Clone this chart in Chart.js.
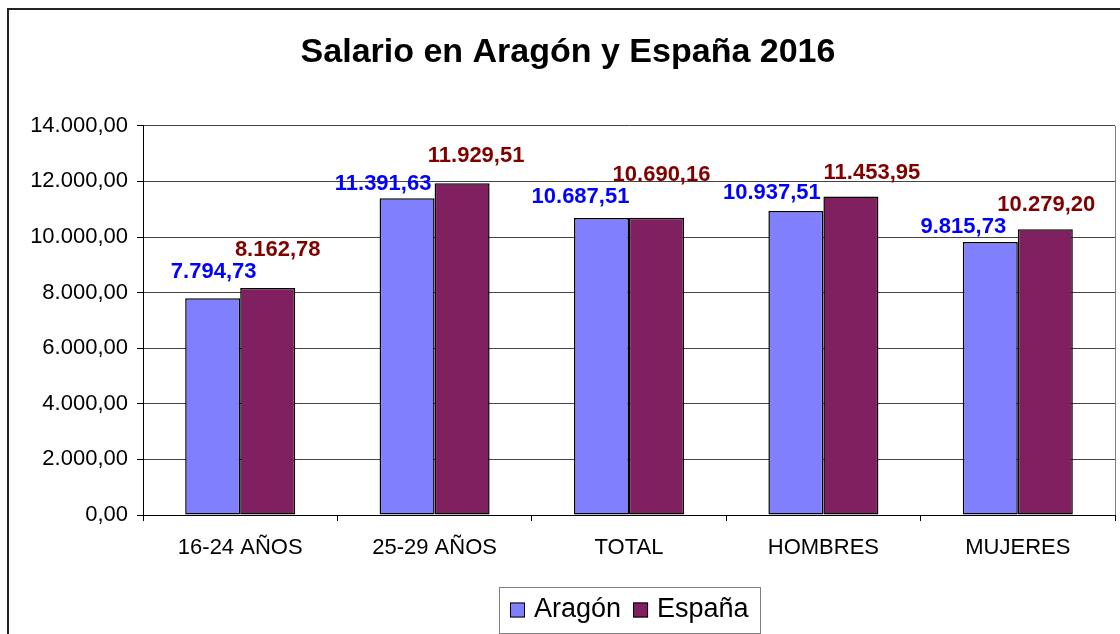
<!DOCTYPE html>
<html>
<head>
<meta charset="utf-8">
<script src="https://cdn.jsdelivr.net/npm/chart.js@4"></script>
<style>
  html, body { margin: 0; padding: 0; background: #fff; }
</style>
</head>
<body>
<canvas id="salarioChart" width="1120" height="634"></canvas>
<script>
// datos
const categories = ['16-24 AÑOS', '25-29 AÑOS', 'TOTAL', 'HOMBRES', 'MUJERES'];
const aragon = [7794.73, 11391.63, 10687.51, 10937.51, 9815.73];
const espana = [8162.78, 11929.51, 10690.16, 11453.95, 10279.20];
const seriesNames = ['Aragón', 'España'];
const yMin = 0, yMax = 14000, yStep = 2000;

// label nudges (px) so the labels sit where they do in the original
const labelNudge = [
    { dx: [1, -24, -21, -24, -27], dy: [26, 14, 21, 18, 15] },
    { dx: [10, 14, 5, 21, 1], dy: [38, 27, 43, 24, 24] }
];

const FONT = '"Liberation Sans", Arial, sans-serif';

function fmt(v) {
    const parts = v.toFixed(2).split('.');
    return parts[0].replace(/\B(?=(\d{3})+(?!\d))/g, '.') + ',' + parts[1];
}

const decor = {
    id: 'decor',
    beforeDraw(chart) {
        const c = chart.ctx;
        c.save();
        c.fillStyle = '#fff';
        c.fillRect(0, 0, chart.width, chart.height);
        c.restore();
    },
    afterDraw(chart) {
        const c = chart.ctx;
        const a = chart.chartArea;
        c.save();

        //plot frame on the right
        c.strokeStyle = '#808080';
        c.lineWidth = 1;
        c.beginPath();
        c.moveTo(Math.round(a.right) + 0.5, a.top);
        c.lineTo(Math.round(a.right) + 0.5, a.bottom);
        c.stroke();

        //outer border (cut off at right and bottom)
        c.strokeStyle = '#222';
        c.lineWidth = 2;
        c.beginPath();
        c.moveTo(8, chart.height);
        c.lineTo(8, 9);
        c.lineTo(chart.width, 9);
        c.stroke();

        //value labels
        const labelColors = ['#0000FF', '#800000'];
        c.font = 'bold 22px ' + FONT;
        c.textAlign = 'center';
        c.textBaseline = 'middle';
        chart.data.datasets.forEach((ds, i) => {
            const meta = chart.getDatasetMeta(i);
            c.fillStyle = labelColors[i];
            meta.data.forEach((bar, j) => {
                const n = labelNudge[i];
                c.fillText(fmt(ds.data[j]), bar.x + n.dx[j], bar.y - n.dy[j]);
            });
        });

        //legend with box, centred under the plot area
        c.font = '27px ' + FONT;
        const sq = 15, gapIn = 9, gapOut = 12, pad = 11;
        const items = chart.data.datasets.map(ds => ({
            text: ds.label, color: ds.backgroundColor, w: c.measureText(ds.label).width
        }));
        let total = pad * 2;
        items.forEach((it, k) => { total += sq + gapIn + it.w + (k ? gapOut : 0); });
        const boxTop = 587, boxH = 46;
        const boxLeft = Math.round((a.left + a.right) / 2 - total / 2);
        c.strokeStyle = '#808080';
        c.lineWidth = 1;
        c.strokeRect(boxLeft + 0.5, boxTop + 0.5, Math.round(total), boxH);
        let x = boxLeft + pad;
        const midY = boxTop + boxH / 2;
        c.textAlign = 'left';
        items.forEach((it, k) => {
            if (k) x += gapOut;
            c.fillStyle = it.color;
            c.fillRect(x, midY - sq / 2, sq, sq);
            c.strokeStyle = '#000';
            c.strokeRect(x + 0.5, midY - sq / 2 + 0.5, sq - 1, sq - 1);
            x += sq + gapIn;
            c.fillStyle = '#000';
            c.fillText(it.text, x, midY);
            x += it.w;
        });
        c.restore();
    }
};

const ctx = document.getElementById('salarioChart');
new Chart(ctx.getContext('2d'), {
    type: 'bar',
    data: {
        labels: categories,
        datasets: [
            { label: seriesNames[0], data: aragon, backgroundColor: '#8080FF', borderColor: '#000', borderWidth: 1.5, borderSkipped: false },
            { label: seriesNames[1], data: espana, backgroundColor: '#802060', borderColor: '#000', borderWidth: 1.5, borderSkipped: false }
        ]
    },
    options: {
        responsive: false,
        devicePixelRatio: 1,
        animation: false,
        categoryPercentage: 0.566,
        barPercentage: 1.0,
        layout: { padding: { left: 21, right: 5, top: 0, bottom: 0 } },
        plugins: {
            legend: { display: false },
            tooltip: { enabled: false },
            title: {
                display: true,
                text: 'Salario en Aragón y España 2016',
                color: '#000',
                font: { family: FONT, size: 34, weight: 'bold', lineHeight: 1.2 },
                padding: { top: 32, bottom: 53 }
            }
        },
        scales: {
            x: {
                grid: { drawOnChartArea: false, drawTicks: true, tickLength: 6, color: '#000', offset: true },
                border: { color: '#000', width: 1 },
                ticks: { color: '#000', padding: 14, font: { family: FONT, size: 22 } },
                afterFit(scale) { scale.height = 119; }
            },
            y: {
                min: yMin,
                max: yMax,
                grid: { color: '#444', tickColor: '#000', tickLength: 6 },
                border: { color: '#000', width: 1 },
                ticks: {
                    stepSize: yStep,
                    color: '#000',
                    padding: 9,
                    font: { family: FONT, size: 22 },
                    callback: v => fmt(v)
                },
                afterFit(scale) { scale.width = 122; }
            }
        }
    },
    plugins: [decor]
});
</script>
</body>
</html>
